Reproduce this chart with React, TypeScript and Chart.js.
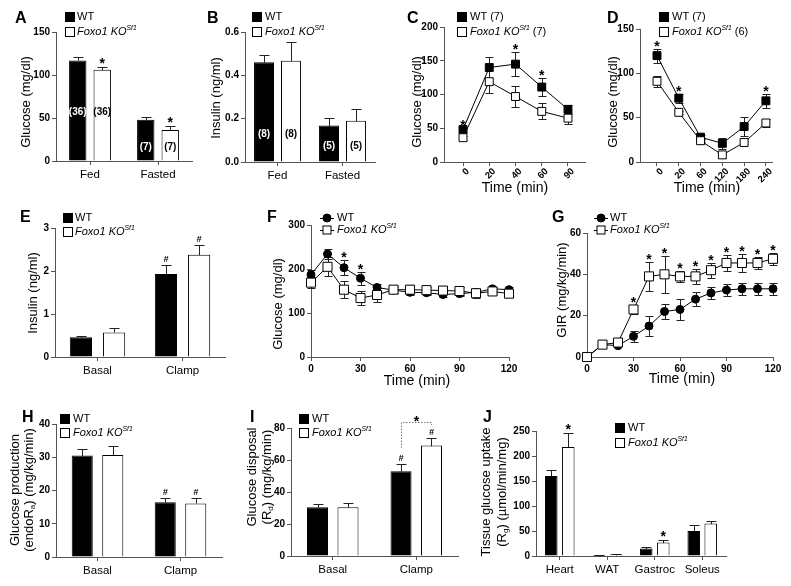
import React, { useEffect, useRef } from "react";
import { Chart, registerables } from "chart.js";

Chart.register(...registerables);

const CW = 791;
const CH = 586;
const FONT = "'Liberation Sans', Arial, Helvetica, sans-serif";
const AXIS = "#555";
const YW = 40;
const XH = 40;

// ===== Data =====
// A: fed / fasted glucose
const aCats = ["Fed", "Fasted"];
const aWT = [117, 48];
const aWTErr = [3.5, 3];
const aKO = [106, 36];
const aKOErr = [3.5, 4.5];
const aN = ["(36)", "(7)"];
const aNAt = [57, 16];
// B: insulin
const bCats = ["Fed", "Fasted"];
const bWT = [0.46, 0.168];
const bWTErr = [0.036, 0.037];
const bKO = [0.467, 0.19];
const bKOErr = [0.087, 0.053];
const bN = ["(8)", "(5)"];
const bNAt = [0.13, 0.073];
// C: GTT
const cTimes = ["0", "20", "40", "60", "90"];
const cWT = [48, 140, 145, 111, 78];
const cWTErr = [3, 15, 18, 13, 7];
const cKO = [36, 119, 97, 75, 65];
const cKOErr = [3, 17, 15, 12, 8];
const cStars = [0, 2, 3];
// D: ITT
const dTimes = ["0", "20", "60", "120", "180", "240"];
const dWT = [120, 72, 28, 21, 40, 69];
const dWTErr = [8, 5, 3, 6, 11, 8];
const dKO = [91, 56, 24, 8, 22, 44];
const dKOErr = [6, 2, 2, 3, 2, 5];
const dStars = [0, 1, 5];
// E: clamp insulin
const eCats = ["Basal", "Clamp"];
const eWT = [0.46, 1.93];
const eWTErr = [0.03, 0.21];
const eKO = [0.57, 2.38];
const eKOErr = [0.11, 0.23];
// F: clamp glucose
const clampTimes = [0, 10, 20, 30, 40, 50, 60, 70, 80, 90, 100, 110, 120];
const fWT = [187, 234, 203, 179, 158, 152, 147, 146, 142, 144, 147, 155, 153];
const fWTErr = [10, 12, 17, 15, 8, 6, 6, 6, 6, 6, 5, 4, 5];
const fKO = [169, 205, 153, 134, 141, 153, 153, 152, 151, 150, 145, 149, 144];
const fKOErr = [12, 22, 20, 15, 15, 8, 10, 8, 8, 8, 10, 6, 6];
const fStars = [2, 3];
// G: GIR
const gWT = [0, 6, 5.5, 10, 15, 22, 23, 28, 31, 32.4, 33, 33, 33];
const gWTErr = [0, 0, 0, 2.8, 5, 3.6, 5, 3.5, 2.8, 2.8, 2.8, 2.8, 3];
const gKO = [0, 6, 7, 23, 39, 40, 39, 39, 42, 45.5, 45.5, 45.5, 47.5];
const gKOErr = [0, 0, 0, 2, 7, 9, 2.7, 3.5, 3.6, 3.7, 4.5, 3, 3];
const gStars = [3, 4, 5, 6, 7, 8, 9, 10, 11, 12];
// H: glucose production
const hCats = ["Basal", "Clamp"];
const hWT = [30.5, 16.5];
const hWTErr = [2, 1.1];
const hKO = [30.7, 16.1];
const hKOErr = [2.7, 1.5];
// I: glucose disposal
const iCats = ["Basal", "Clamp"];
const iWT = [30.5, 53];
const iWTErr = [2, 4.5];
const iKO = [30.5, 69];
const iKOErr = [2.8, 4.8];
// J: tissue glucose uptake
const jCats = ["Heart", "WAT", "Gastroc", "Soleus"];
const jWT = [160, 2, 15, 50];
const jWTErr = [13, 0.6, 4, 12];
const jKO = [218, 3, 27, 65];
const jKOErr = [28, 1, 6, 6];
const jStars = [0, 2];

// ===== Types =====
type Rich = { t: string; i?: boolean; b?: boolean; sup?: boolean; sub?: boolean };
type Series = { data: number[]; err: number[]; fill: string; marker?: string; radius?: number };
type Mark = { s: number; i: number[]; t: string };
type NLab = { s: number; texts: string[]; at: number[]; color: string };
type PanelCfg = {
  type: "bar" | "line";
  xKind: "category" | "index" | "linear";
  labels?: string[];
  xs?: number[];
  area: number[];
  yMax: number;
  yStep: number;
  yDigits: number;
  xMin?: number;
  xMax?: number;
  xStep?: number;
  catPct?: number;
  barPct?: number;
  series: Series[];
  letter: { t: string; x: number; y: number };
  legend: { kind: "box" | "line"; x: number; tx: number; ys: number[]; items: Rich[][] };
  yTitle: { xs: number[]; y: number; lines: Rich[][] };
  xTitle?: { x: number; y: number; t: string };
  marks?: Mark[];
  nLabels?: NLab[];
  bracket?: { a: number[]; b: number[]; level: number };
};

const KO: Rich[] = [{ t: "Foxo1 KO", i: true }, { t: "Sf1", i: true, sup: true }];
const WTL: Rich[] = [{ t: "WT" }];

function fontStr(p: Rich, size: number) {
  const s = p.sup || p.sub ? size * 0.62 : size;
  return `${p.i ? "italic " : ""}${p.b ? "bold " : ""}${s}px ${FONT}`;
}

function drawRich(ctx: CanvasRenderingContext2D, parts: Rich[], x: number, y: number, size: number, align: "left" | "center") {
  let total = 0;
  for (const p of parts) {
    ctx.font = fontStr(p, size);
    total += ctx.measureText(p.t).width;
  }
  let cx = align === "center" ? x - total / 2 : x;
  ctx.textAlign = "left";
  ctx.textBaseline = "middle";
  for (const p of parts) {
    ctx.font = fontStr(p, size);
    const dy = p.sup ? -size * 0.38 : p.sub ? size * 0.3 : 0;
    ctx.fillText(p.t, cx, y + dy);
    cx += ctx.measureText(p.t).width;
  }
}

function drawMarker(ctx: CanvasRenderingContext2D, kind: string, x: number, y: number, fill: string, side: number) {
  ctx.fillStyle = fill;
  ctx.strokeStyle = "#000";
  ctx.lineWidth = 1;
  if (kind === "circle") {
    ctx.beginPath();
    ctx.arc(x, y, side / 2, 0, Math.PI * 2);
    ctx.fill();
    ctx.stroke();
  } else {
    ctx.fillRect(x - side / 2, y - side / 2, side, side);
    ctx.strokeRect(x - side / 2, y - side / 2, side, side);
  }
}

function decor(cfg: PanelCfg): any {
  const isBar = cfg.type === "bar";
  return {
    id: "decor" + cfg.letter.t,
    beforeDatasetsDraw(chart: any) {
      const ctx: CanvasRenderingContext2D = chart.ctx;
      const ys = chart.scales.y;
      ctx.save();
      ctx.strokeStyle = "#222";
      ctx.lineWidth = 1;
      cfg.series.forEach((s, k) => {
        const meta = chart.getDatasetMeta(k);
        const cap = isBar ? 5 : 4;
        s.err.forEach((e, i) => {
          if (!e) return;
          const el = meta.data[i];
          const x = Math.round(el.x) + 0.5;
          const v = s.data[i];
          const yTop = Math.round(ys.getPixelForValue(v + e)) + 0.5;
          const yBot = Math.round(ys.getPixelForValue(isBar ? v : v - e)) + 0.5;
          ctx.beginPath();
          ctx.moveTo(x, yTop);
          ctx.lineTo(x, yBot);
          ctx.moveTo(x - cap, yTop);
          ctx.lineTo(x + cap, yTop);
          if (!isBar) {
            ctx.moveTo(x - cap, yBot);
            ctx.lineTo(x + cap, yBot);
          }
          ctx.stroke();
        });
      });
      ctx.restore();
    },
    afterDatasetsDraw(chart: any) {
      const ctx: CanvasRenderingContext2D = chart.ctx;
      const ys = chart.scales.y;
      ctx.save();
      (cfg.marks || []).forEach((m) => {
        const s = cfg.series[m.s];
        const meta = chart.getDatasetMeta(m.s);
        m.i.forEach((i) => {
          const x = meta.data[i].x;
          const yTop = ys.getPixelForValue(s.data[i] + s.err[i]);
          ctx.fillStyle = "#000";
          ctx.textAlign = "center";
          ctx.textBaseline = "alphabetic";
          if (m.t === "#") {
            ctx.font = `italic bold 9px ${FONT}`;
            ctx.fillText("#", x, yTop - 3);
          } else {
            ctx.font = `bold 14px ${FONT}`;
            ctx.fillText("*", x, yTop + (isBar ? 1 : 2));
          }
        });
      });
      (cfg.nLabels || []).forEach((n) => {
        const meta = chart.getDatasetMeta(n.s);
        n.texts.forEach((t, i) => {
          const x = meta.data[i].x;
          const y = ys.getPixelForValue(n.at[i]);
          ctx.fillStyle = n.color;
          ctx.font = `bold 10px ${FONT}`;
          ctx.textAlign = "center";
          ctx.textBaseline = "middle";
          ctx.fillText(t, x, y);
        });
      });
      if (cfg.bracket) {
        const br = cfg.bracket;
        const pa = chart.getDatasetMeta(br.a[0]).data[br.a[1]];
        const pb = chart.getDatasetMeta(br.b[0]).data[br.b[1]];
        const sa = cfg.series[br.a[0]];
        const sb = cfg.series[br.b[0]];
        const ya = ys.getPixelForValue(sa.data[br.a[1]] + sa.err[br.a[1]]) - 16;
        const yb = ys.getPixelForValue(sb.data[br.b[1]] + sb.err[br.b[1]]) - 13;
        const yl = Math.round(ys.getPixelForValue(br.level)) + 0.5;
        const xa = Math.round(pa.x) + 0.5;
        const xb = Math.round(pb.x) + 0.5;
        ctx.strokeStyle = "#777";
        ctx.lineWidth = 1;
        ctx.setLineDash([1.5, 1.5]);
        ctx.beginPath();
        ctx.moveTo(xa, ya);
        ctx.lineTo(xa, yl);
        ctx.lineTo(xb, yl);
        ctx.lineTo(xb, yb);
        ctx.stroke();
        ctx.setLineDash([]);
        ctx.fillStyle = "#000";
        ctx.font = `bold 14px ${FONT}`;
        ctx.textAlign = "center";
        ctx.textBaseline = "alphabetic";
        ctx.fillText("*", (xa + xb) / 2, yl + 3);
      }
      ctx.restore();
    },
    afterDraw(chart: any) {
      const ctx: CanvasRenderingContext2D = chart.ctx;
      ctx.save();
      ctx.fillStyle = "#000";
      ctx.font = `bold 16px ${FONT}`;
      ctx.textAlign = "left";
      ctx.textBaseline = "alphabetic";
      ctx.fillText(cfg.letter.t, cfg.letter.x, cfg.letter.y);
      const lg = cfg.legend;
      lg.items.forEach((item, k) => {
        const y = lg.ys[k];
        const s = cfg.series[k];
        if (lg.kind === "box") {
          ctx.fillStyle = s.fill;
          ctx.fillRect(lg.x, y - 5, 10, 10);
          ctx.strokeStyle = "#000";
          ctx.lineWidth = 1;
          ctx.strokeRect(lg.x + 0.5, y - 4.5, 9, 9);
        } else {
          ctx.strokeStyle = "#000";
          ctx.lineWidth = 1;
          ctx.beginPath();
          ctx.moveTo(lg.x - 7, Math.round(y) + 0.5);
          ctx.lineTo(lg.x + 7, Math.round(y) + 0.5);
          ctx.stroke();
          drawMarker(ctx, s.marker || "rect", lg.x, y, s.fill, 8);
        }
        ctx.fillStyle = "#000";
        drawRich(ctx, item, lg.tx, y, 11, "left");
      });
      const yt = cfg.yTitle;
      yt.lines.forEach((line, k) => {
        ctx.save();
        ctx.translate(yt.xs[k], yt.y);
        ctx.rotate(-Math.PI / 2);
        ctx.fillStyle = "#000";
        drawRich(ctx, line, 0, 0, 13, "center");
        ctx.restore();
      });
      if (cfg.xTitle) {
        ctx.fillStyle = "#000";
        ctx.font = `14px ${FONT}`;
        ctx.textAlign = "center";
        ctx.textBaseline = "alphabetic";
        ctx.fillText(cfg.xTitle.t, cfg.xTitle.x, cfg.xTitle.y);
      }
      ctx.restore();
    },
  };
}

function buildConfig(cfg: PanelCfg): any {
  const [L, T, R, B] = cfg.area;
  const isBar = cfg.type === "bar";
  const gridOpts = { drawOnChartArea: false, drawTicks: true, tickLength: 4, color: AXIS, lineWidth: 1, offset: false };
  const borderOpts = { display: true, color: AXIS, width: 1 };
  const tickFont = { family: FONT, size: 10, weight: "bold" };

  const datasets = cfg.series.map((s, k) => {
    if (isBar) {
      return {
        data: s.data,
        backgroundColor: s.fill,
        borderColor: "#000",
        borderWidth: 1,
        borderSkipped: "bottom",
        categoryPercentage: cfg.catPct,
        barPercentage: cfg.barPct,
      };
    }
    const xs = cfg.xKind === "index" ? s.data.map((_, i) => i) : (cfg.xs as number[]);
    return {
      data: s.data.map((v, i) => ({ x: xs[i], y: v })),
      borderColor: "#000",
      borderWidth: 1,
      pointStyle: s.marker === "circle" ? "circle" : "rect",
      pointRadius: s.radius,
      pointBackgroundColor: s.fill,
      pointBorderColor: "#000",
      pointBorderWidth: 1,
      tension: 0,
      fill: false,
      clip: false,
      order: k === 0 ? 1 : 0,
    };
  });

  let xScale: any;
  if (cfg.xKind === "category") {
    xScale = {
      type: "category",
      offset: true,
      grid: gridOpts,
      border: borderOpts,
      ticks: { font: { family: FONT, size: 11.5 }, color: "#000", padding: 3, maxRotation: 0, autoSkip: false },
      afterFit: (s: any) => {
        s.height = XH;
      },
    };
  } else if (cfg.xKind === "index") {
    const labels = cfg.labels as string[];
    xScale = {
      type: "linear",
      min: cfg.xMin,
      max: cfg.xMax,
      grid: gridOpts,
      border: borderOpts,
      afterBuildTicks: (s: any) => {
        s.ticks = labels.map((_, i) => ({ value: i }));
      },
      ticks: {
        font: { family: FONT, size: 9.5, weight: "bold" },
        color: "#000",
        padding: 0,
        labelOffset: 5,
        minRotation: 45,
        maxRotation: 45,
        autoSkip: false,
        callback: (v: number) => labels[Math.round(v)] ?? "",
      },
      afterFit: (s: any) => {
        s.height = XH;
      },
    };
  } else {
    xScale = {
      type: "linear",
      min: cfg.xMin,
      max: cfg.xMax,
      grid: gridOpts,
      border: borderOpts,
      ticks: { font: tickFont, color: "#000", padding: 2, stepSize: cfg.xStep, maxRotation: 0 },
      afterFit: (s: any) => {
        s.height = XH;
      },
    };
  }

  return {
    type: cfg.type,
    data: { labels: isBar ? cfg.labels : undefined, datasets },
    options: {
      responsive: false,
      animation: false,
      devicePixelRatio: 1,
      events: [],
      layout: { padding: { left: L - YW, top: T, right: CW - R, bottom: CH - B - XH } },
      plugins: { legend: { display: false }, tooltip: { enabled: false }, title: { display: false } },
      scales: {
        x: xScale,
        y: {
          type: "linear",
          min: 0,
          max: cfg.yMax,
          grid: gridOpts,
          border: borderOpts,
          ticks: {
            font: tickFont,
            color: "#000",
            padding: 2,
            stepSize: cfg.yStep,
            callback: (v: number) => v.toFixed(cfg.yDigits),
          },
          afterFit: (s: any) => {
            s.width = YW;
          },
        },
      },
    },
    plugins: [decor(cfg)],
  };
}

const WT_BAR = "#000";
const KO_BAR = "#fff";

const panels: PanelCfg[] = [
  {
    type: "bar", xKind: "category", labels: aCats, area: [56, 32, 192, 161],
    yMax: 150, yStep: 50, yDigits: 0, catPct: 0.72, barPct: 0.71,
    series: [{ data: aWT, err: aWTErr, fill: WT_BAR }, { data: aKO, err: aKOErr, fill: KO_BAR }],
    letter: { t: "A", x: 15, y: 23 },
    legend: { kind: "box", x: 65, tx: 77, ys: [17, 32], items: [WTL, KO] },
    yTitle: { xs: [26], y: 102, lines: [[{ t: "Glucose (mg/dl)" }]] },
    marks: [{ s: 1, i: [0, 1], t: "*" }],
    nLabels: [{ s: 0, texts: aN, at: aNAt, color: "#fff" }, { s: 1, texts: aN, at: aNAt, color: "#000" }],
  },
  {
    type: "bar", xKind: "category", labels: bCats, area: [245, 32, 375, 162],
    yMax: 0.6, yStep: 0.2, yDigits: 1, catPct: 0.83, barPct: 0.74,
    series: [{ data: bWT, err: bWTErr, fill: WT_BAR }, { data: bKO, err: bKOErr, fill: KO_BAR }],
    letter: { t: "B", x: 207, y: 23 },
    legend: { kind: "box", x: 252, tx: 265, ys: [17, 32], items: [WTL, KO] },
    yTitle: { xs: [216], y: 98, lines: [[{ t: "Insulin (ng/ml)" }]] },
    nLabels: [{ s: 0, texts: bN, at: bNAt, color: "#fff" }, { s: 1, texts: bN, at: bNAt, color: "#000" }],
  },
  {
    type: "line", xKind: "index", labels: cTimes, area: [444, 27, 585, 162], xMin: -0.724, xMax: 4.648,
    yMax: 200, yStep: 50, yDigits: 0,
    series: [
      { data: cWT, err: cWTErr, fill: "#000", marker: "rect", radius: 5.6 },
      { data: cKO, err: cKOErr, fill: "#fff", marker: "rect", radius: 5.6 },
    ],
    letter: { t: "C", x: 407, y: 23 },
    legend: { kind: "box", x: 457, tx: 470, ys: [17, 32], items: [[{ t: "WT (7)" }], [...KO, { t: " (7)" }]] },
    yTitle: { xs: [417], y: 102, lines: [[{ t: "Glucose (mg/dl)" }]] },
    xTitle: { x: 515, y: 192, t: "Time (min)" },
    marks: [{ s: 0, i: cStars, t: "*" }],
  },
  {
    type: "line", xKind: "index", labels: dTimes, area: [640, 29, 772, 162], xMin: -0.78, xMax: 5.28,
    yMax: 150, yStep: 50, yDigits: 0,
    series: [
      { data: dWT, err: dWTErr, fill: "#000", marker: "rect", radius: 5.6 },
      { data: dKO, err: dKOErr, fill: "#fff", marker: "rect", radius: 5.6 },
    ],
    letter: { t: "D", x: 607, y: 23 },
    legend: { kind: "box", x: 659, tx: 672, ys: [17, 32], items: [[{ t: "WT (7)" }], [...KO, { t: " (6)" }]] },
    yTitle: { xs: [613], y: 102, lines: [[{ t: "Glucose (mg/dl)" }]] },
    xTitle: { x: 707, y: 192, t: "Time (min)" },
    marks: [{ s: 0, i: dStars, t: "*" }],
  },
  {
    type: "bar", xKind: "category", labels: eCats, area: [55, 228, 225, 357],
    yMax: 3, yStep: 1, yDigits: 0, catPct: 0.78, barPct: 0.67,
    series: [{ data: eWT, err: eWTErr, fill: WT_BAR }, { data: eKO, err: eKOErr, fill: KO_BAR }],
    letter: { t: "E", x: 20, y: 222 },
    legend: { kind: "box", x: 63, tx: 75, ys: [218, 232], items: [WTL, KO] },
    yTitle: { xs: [33], y: 293, lines: [[{ t: "Insulin (ng/ml)" }]] },
    marks: [{ s: 0, i: [1], t: "#" }, { s: 1, i: [1], t: "#" }],
  },
  {
    type: "line", xKind: "linear", xs: clampTimes, area: [311, 225, 509, 357], xMin: 0, xMax: 120, xStep: 30,
    yMax: 300, yStep: 100, yDigits: 0,
    series: [
      { data: fWT, err: fWTErr, fill: "#000", marker: "circle", radius: 4 },
      { data: fKO, err: fKOErr, fill: "#fff", marker: "rect", radius: 6.4 },
    ],
    letter: { t: "F", x: 267, y: 222 },
    legend: { kind: "line", x: 327, tx: 337, ys: [218, 230], items: [WTL, KO] },
    yTitle: { xs: [278], y: 304, lines: [[{ t: "Glucose (mg/dl)" }]] },
    xTitle: { x: 417, y: 385, t: "Time (min)" },
    marks: [{ s: 0, i: fStars, t: "*" }],
  },
  {
    type: "line", xKind: "linear", xs: clampTimes, area: [587, 233, 773, 357], xMin: 0, xMax: 120, xStep: 30,
    yMax: 60, yStep: 20, yDigits: 0,
    series: [
      { data: gWT, err: gWTErr, fill: "#000", marker: "circle", radius: 4 },
      { data: gKO, err: gKOErr, fill: "#fff", marker: "rect", radius: 6.4 },
    ],
    letter: { t: "G", x: 552, y: 222 },
    legend: { kind: "line", x: 601, tx: 610, ys: [218, 230], items: [WTL, KO] },
    yTitle: { xs: [562], y: 290, lines: [[{ t: "GIR (mg/kg/min)" }]] },
    xTitle: { x: 682, y: 383, t: "Time (min)" },
    marks: [{ s: 1, i: gStars, t: "*" }],
  },
  {
    type: "bar", xKind: "category", labels: hCats, area: [56, 424, 222, 557],
    yMax: 40, yStep: 10, yDigits: 0, catPct: 0.735, barPct: 0.69,
    series: [{ data: hWT, err: hWTErr, fill: WT_BAR }, { data: hKO, err: hKOErr, fill: KO_BAR }],
    letter: { t: "H", x: 22, y: 422 },
    legend: { kind: "box", x: 60, tx: 73, ys: [419, 433], items: [WTL, KO] },
    yTitle: {
      xs: [15, 29], y: 490,
      lines: [[{ t: "Glucose production" }], [{ t: "(endoR" }, { t: "a", sub: true }, { t: ") (mg/kg/min)" }]],
    },
    marks: [{ s: 0, i: [1], t: "#" }, { s: 1, i: [1], t: "#" }],
  },
  {
    type: "bar", xKind: "category", labels: iCats, area: [291, 428, 458, 556],
    yMax: 80, yStep: 20, yDigits: 0, catPct: 0.73, barPct: 0.69,
    series: [{ data: iWT, err: iWTErr, fill: WT_BAR }, { data: iKO, err: iKOErr, fill: KO_BAR }],
    letter: { t: "I", x: 250, y: 422 },
    legend: { kind: "box", x: 299, tx: 312, ys: [419, 433], items: [WTL, KO] },
    yTitle: {
      xs: [252, 267], y: 477,
      lines: [[{ t: "Glucose disposal" }], [{ t: "(R" }, { t: "d", sub: true }, { t: ") (mg/kg/min)" }]],
    },
    marks: [{ s: 0, i: [1], t: "#" }, { s: 1, i: [1], t: "#" }],
    bracket: { a: [0, 1], b: [1, 1], level: 84 },
  },
  {
    type: "bar", xKind: "category", labels: jCats, area: [536, 431, 726, 556],
    yMax: 250, yStep: 50, yDigits: 0, catPct: 0.716, barPct: 0.74,
    series: [{ data: jWT, err: jWTErr, fill: WT_BAR }, { data: jKO, err: jKOErr, fill: KO_BAR }],
    letter: { t: "J", x: 483, y: 422 },
    legend: { kind: "box", x: 615, tx: 628, ys: [428, 443], items: [WTL, KO] },
    yTitle: {
      xs: [486, 502], y: 492,
      lines: [[{ t: "Tissue glucose uptake" }], [{ t: "(R" }, { t: "g", sub: true }, { t: ") (\u00b5mol/min/mg)" }]],
    },
    marks: [{ s: 1, i: jStars, t: "*" }],
  },
];

function PanelChart({ cfg }: { cfg: PanelCfg }) {
  const ref = useRef<HTMLCanvasElement>(null);
  useEffect(() => {
    const chart = new Chart(ref.current as HTMLCanvasElement, buildConfig(cfg));
    return () => chart.destroy();
  }, [cfg]);
  return (
    <canvas
      ref={ref}
      width={CW}
      height={CH}
      style={{ position: "absolute", left: 0, top: 0, width: CW, height: CH }}
    />
  );
}

export default function App() {
  return (
    <div style={{ position: "fixed", left: 0, top: 0, width: CW, height: CH, background: "#fff", overflow: "hidden" }}>
      {panels.map((p) => (
        <PanelChart key={p.letter.t} cfg={p} />
      ))}
    </div>
  );
}
